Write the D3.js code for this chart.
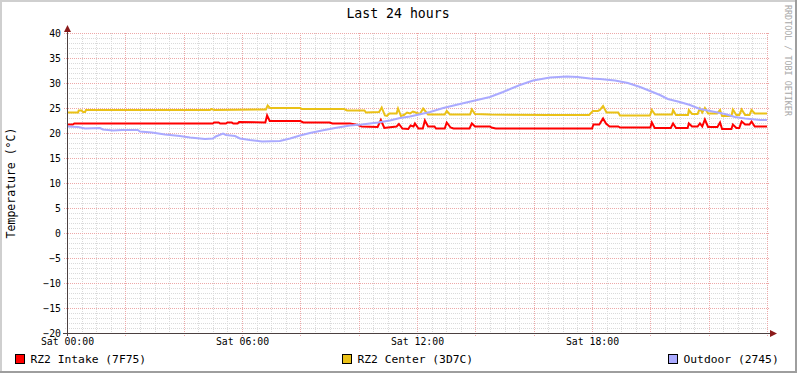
<!DOCTYPE html>
<html>
<head>
<meta charset="utf-8">
<script src="https://cdn.jsdelivr.net/npm/d3@7"></script>
<style>
  html, body { margin: 0; padding: 0; background: #ffffff; }
  svg { display: block; }
  text { font-family: "DejaVu Sans Mono", monospace; }
</style>
</head>
<body>
<svg id="chart" width="797" height="373"></svg>
<script>
// ---------- DATA ----------
const title = "Last 24 hours";
const yAxisTitle = "Temperature (°C)";
const watermark = "RRDTOOL / TOBI OETIKER";
const seriesNames = ["RZ2 Intake (7F75)", "RZ2 Center (3D7C)", "Outdoor (2745)"];
const xTickHours = [0, 6, 12, 18];
const xTickLabels = ["Sat 00:00", "Sat 06:00", "Sat 12:00", "Sat 18:00"];
const yTickValues = [-20, -15, -10, -5, 0, 5, 10, 15, 20, 25, 30, 35, 40];

// [hour, °C]
const intake = [[0,21.7],[0.2,21.7],[0.25,21.9],[5.0,21.9],[5.05,22.1],[5.2,22.1],[5.25,21.9],[5.45,21.9],[5.5,22.1],[5.65,22.1],[5.7,21.9],[5.85,21.9],[5.9,22.2],[6.8,22.1],[6.86,23.5],[6.95,22.4],[8.0,22.4],[8.1,22.1],[9.0,22.1],[9.1,21.9],[9.7,21.9],[9.98,21.6],[10.1,21.3],[10.65,21.2],[10.76,22.6],[10.88,21.0],[11.0,21.1],[11.3,21.3],[11.38,21.8],[11.5,20.9],[11.7,20.8],[11.78,21.5],[11.88,21.3],[11.93,21.9],[12.05,20.9],[12.2,20.9],[12.27,22.5],[12.38,21.3],[12.6,21.3],[12.65,20.9],[12.95,20.9],[13.02,22.1],[13.15,21.1],[13.25,20.9],[13.8,20.9],[13.88,21.9],[13.99,21.3],[14.5,21.3],[14.55,21.1],[14.7,20.9],[18.0,20.9],[18.05,21.7],[18.25,21.7],[18.38,22.9],[18.48,21.9],[18.6,21.3],[18.9,21.3],[18.96,21.1],[20.0,21.1],[20.05,22.1],[20.15,21.0],[20.7,21.0],[20.78,21.9],[20.88,21.0],[21.28,21.0],[21.32,21.9],[21.43,21.3],[21.62,21.3],[21.7,21.9],[21.78,21.3],[21.87,22.7],[21.98,21.2],[22.3,21.2],[22.39,22.1],[22.46,20.8],[22.78,20.8],[22.83,21.7],[22.95,21.0],[23.05,21.0],[23.13,22.3],[23.25,21.7],[23.4,21.7],[23.47,22.3],[23.58,21.3],[24,21.3]];

const center = [[0,24.1],[0.38,24.1],[0.4,24.5],[0.5,24.5],[0.55,24.2],[0.62,24.2],[0.65,24.6],[4.9,24.6],[4.95,24.8],[5.05,24.6],[6.82,24.7],[6.88,25.5],[6.96,25.0],[8.0,25.0],[8.05,24.8],[9.5,24.8],[9.6,24.5],[10.2,24.5],[10.25,24.1],[10.7,24.2],[10.79,25.1],[10.9,23.5],[10.97,23.4],[11.05,23.9],[11.3,23.9],[11.35,24.9],[11.45,23.4],[11.55,23.6],[11.66,24.1],[11.76,23.9],[11.86,24.3],[12.1,23.8],[12.15,24.3],[12.21,24.9],[12.38,23.7],[12.95,23.7],[13.02,24.4],[13.13,23.7],[13.82,23.7],[13.88,24.7],[13.99,23.8],[14.5,23.7],[16.5,23.6],[17.9,23.6],[18.03,24.4],[18.2,24.4],[18.27,24.6],[18.38,25.4],[18.5,24.1],[18.9,24.1],[18.96,23.5],[19.99,23.5],[20.05,24.6],[20.16,23.7],[20.74,23.7],[20.78,24.6],[20.88,23.6],[21.29,23.6],[21.32,24.6],[21.43,23.8],[21.62,23.8],[21.7,24.9],[21.78,24.1],[21.87,25.0],[21.98,23.9],[22.29,23.9],[22.39,24.6],[22.46,23.4],[22.78,23.4],[22.83,24.7],[22.95,23.6],[23.05,23.6],[23.13,24.7],[23.25,23.6],[23.4,23.6],[23.47,24.6],[23.58,23.9],[24,23.9]];

const outdoor = [[0,21.3],[0.38,21.2],[0.62,20.9],[1.13,21.0],[1.23,20.7],[1.58,20.5],[1.89,20.6],[2.43,20.6],[2.5,20.3],[2.91,20.1],[3.36,19.7],[3.87,19.4],[4.22,19.1],[4.73,18.8],[5.0,18.9],[5.1,19.3],[5.35,19.9],[5.45,19.6],[5.76,19.4],[5.93,18.9],[6.27,18.6],[6.69,18.3],[7.3,18.4],[7.65,18.9],[7.99,19.5],[8.33,20.0],[8.74,20.5],[9.19,21.0],[9.7,21.5],[10.11,21.7],[10.66,22.1],[11.07,22.5],[11.42,23.0],[11.76,23.3],[12.45,24.2],[12.9,25.0],[13.47,25.8],[14.06,26.6],[14.5,27.2],[14.95,28.2],[15.53,29.6],[15.98,30.5],[16.56,31.1],[17.14,31.3],[17.5,31.2],[17.93,30.9],[18.27,30.8],[18.79,30.5],[19.23,30.0],[19.65,29.2],[19.99,28.4],[20.33,27.6],[20.6,26.8],[21.01,26.2],[21.36,25.6],[21.7,24.8],[22.05,24.4],[22.56,23.8],[22.9,23.2],[23.25,22.9],[23.76,22.6],[24,22.6]];

// ---------- STYLE ----------
const colors = ["#FF0000", "#EAC117", "#AAAAFF"];
const W = 797, H = 373;
const plot = { left: 67, right: 767, top: 33, bottom: 333 };

const svg = d3.select("#chart");

// background and 3D frame
svg.append("rect").attr("x", 0).attr("y", 0).attr("width", W).attr("height", H).attr("fill", "#ffffff");
svg.append("rect").attr("x", 0).attr("y", 0).attr("width", W).attr("height", 2).attr("fill", "#CFCFCF");
svg.append("rect").attr("x", 0).attr("y", 0).attr("width", 2).attr("height", H).attr("fill", "#CFCFCF");
svg.append("rect").attr("x", W - 2).attr("y", 0).attr("width", 2).attr("height", H).attr("fill", "#9E9E9E");
svg.append("rect").attr("x", 0).attr("y", H - 2).attr("width", W).attr("height", 2).attr("fill", "#9E9E9E");

const x = d3.scaleLinear().domain([0, 24]).range([plot.left, plot.right]);
const y = d3.scaleLinear().domain([-20, 40]).range([plot.bottom, plot.top]);

const minorColor = "#DADADA", majorColor = "#EDA8A8";
const grid = svg.append("g").attr("shape-rendering", "crispEdges");
// minor horizontal (every 1)
d3.range(-20, 41, 1).filter(v => v % 5 !== 0).forEach(v => {
  grid.append("line").attr("x1", plot.left - 2).attr("x2", plot.right + 2)
    .attr("y1", Math.round(y(v)) + 0.5).attr("y2", Math.round(y(v)) + 0.5)
    .attr("stroke", minorColor).attr("stroke-dasharray", "1,1");
});
// minor vertical (every 30 min)
d3.range(0, 24.01, 0.5).filter(h => h % 2 !== 0).forEach(h => {
  grid.append("line").attr("y1", plot.top).attr("y2", plot.bottom + 2)
    .attr("x1", Math.round(x(h)) + 0.5).attr("x2", Math.round(x(h)) + 0.5)
    .attr("stroke", minorColor).attr("stroke-dasharray", "1,1");
});
// major horizontal (every 5)
yTickValues.forEach(v => {
  grid.append("line").attr("x1", plot.left - 3).attr("x2", plot.right + 2)
    .attr("y1", Math.round(y(v)) + 0.5).attr("y2", Math.round(y(v)) + 0.5)
    .attr("stroke", majorColor).attr("stroke-dasharray", "1,1");
});
// major vertical (every 2h)
d3.range(0, 24.01, 2).forEach(h => {
  grid.append("line").attr("y1", plot.top).attr("y2", plot.bottom + 3)
    .attr("x1", Math.round(x(h)) + 0.5).attr("x2", Math.round(x(h)) + 0.5)
    .attr("stroke", majorColor).attr("stroke-dasharray", "1,1");
});

// series lines
const line = d3.line().x(d => x(d[0])).y(d => y(d[1]));
[intake, center, outdoor].forEach((s, i) => {
  svg.append("path").datum(s).attr("d", line)
    .attr("fill", "none").attr("stroke", colors[i]).attr("stroke-width", 2)
    .attr("stroke-linejoin", "miter");
});

// axes lines + arrows
const axisColor = "#4B4040";
svg.append("line").attr("x1", plot.left + 0.5).attr("x2", plot.left + 0.5)
  .attr("y1", plot.bottom + 3).attr("y2", plot.top - 4)
  .attr("stroke", axisColor).attr("shape-rendering", "crispEdges");
svg.append("line").attr("x1", plot.left - 4).attr("x2", plot.right + 4)
  .attr("y1", plot.bottom + 0.5).attr("y2", plot.bottom + 0.5)
  .attr("stroke", axisColor).attr("shape-rendering", "crispEdges");
const arrowColor = "#8B1A1A";
svg.append("path")
  .attr("d", `M${plot.left + 0.5 - 3.5},${plot.top - 1} L${plot.left + 0.5 + 3.5},${plot.top - 1} L${plot.left + 0.5},${plot.top - 8} Z`)
  .attr("fill", arrowColor);
svg.append("path")
  .attr("d", `M${plot.right + 3},${plot.bottom + 0.5 - 3.5} L${plot.right + 3},${plot.bottom + 0.5 + 3.5} L${plot.right + 10},${plot.bottom + 0.5} Z`)
  .attr("fill", arrowColor);

// y tick labels via axis
const yAxis = d3.axisLeft(y).tickValues(yTickValues).tickSize(0).tickPadding(0).tickFormat(d3.format("d"));
const yg = svg.append("g").attr("transform", `translate(${plot.left - 6},0)`).call(yAxis);
yg.select(".domain").remove();
yg.selectAll("text").attr("font-family", "DejaVu Sans Mono").attr("font-size", 9.8).attr("fill", "#000");

// x tick labels via axis
const xAxis = d3.axisBottom(x).tickValues(xTickHours).tickSize(0).tickPadding(0)
  .tickFormat((d, i) => xTickLabels[i]);
const xg = svg.append("g").attr("transform", `translate(0,${plot.bottom + 5})`).call(xAxis);
xg.select(".domain").remove();
xg.selectAll("text").attr("font-family", "DejaVu Sans Mono").attr("font-size", 9.8).attr("fill", "#000");

// title
svg.append("text").attr("x", 398).attr("y", 18).attr("text-anchor", "middle")
  .attr("font-size", 13.2).attr("fill", "#000").text(title);

// y axis title
svg.append("text").attr("transform", "translate(15,183) rotate(-90)")
  .attr("text-anchor", "middle").attr("font-size", 11.5).attr("fill", "#000").text(yAxisTitle);

// watermark
svg.append("text").attr("transform", "translate(785,5) rotate(90)")
  .attr("text-anchor", "start").attr("font-size", 8.4).attr("fill", "#A8A8A8").text(watermark);

// legend
const legendX = [15, 342, 668];
seriesNames.forEach((name, i) => {
  svg.append("rect").attr("x", legendX[i] + 0.5).attr("y", 354.5).attr("width", 9).attr("height", 9)
    .attr("fill", colors[i]).attr("stroke", "#000").attr("stroke-width", 1).attr("shape-rendering", "crispEdges");
  svg.append("text").attr("x", legendX[i] + 15.5).attr("y", 363).attr("font-size", 11.3)
    .attr("fill", "#000").text(name);
});
</script>
</body>
</html>
